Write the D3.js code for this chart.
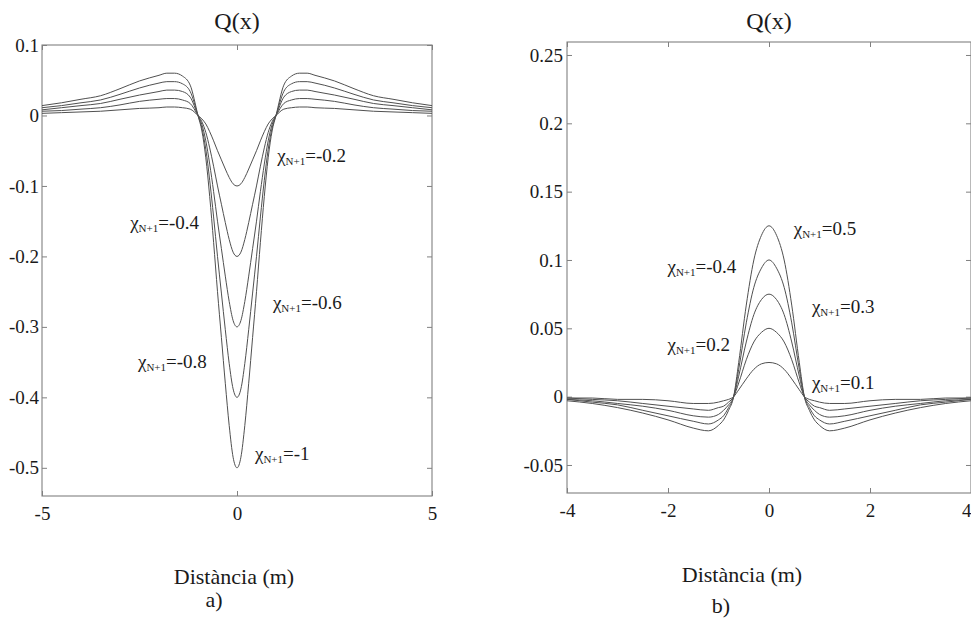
<!DOCTYPE html>
<html>
<head>
<meta charset="utf-8">
<script src="https://cdn.jsdelivr.net/npm/d3@7"></script>
<style>
  html, body { margin: 0; padding: 0; background: #ffffff; }
  svg { display: block; }
  text { font-family: "Liberation Serif", "Times New Roman", serif; fill: #1a1a1a; }
</style>
</head>
<body>
<svg id="chart" width="971" height="621"></svg>
<script>
// ---------- Panel a) data ----------
const xA = [-5,-4.5,-4,-3.5,-3,-2.5,-2,-1.8,-1.6,-1.4,-1.2,-1,-0.9,-0.8,-0.7,-0.6,-0.5,-0.4,-0.3,-0.2,-0.1,0,0.1,0.2,0.3,0.4,0.5,0.6,0.7,0.8,0.9,1,1.2,1.4,1.6,1.8,2,2.5,3,3.5,4,4.5,5];
const chiA = [-1, -0.8, -0.6, -0.4, -0.2];
const qA_m1  = [0.014,0.018,0.023,0.028,0.038,0.049,0.057,0.06,0.06,0.056,0.043,0,-0.022,-0.06,-0.115,-0.18,-0.25,-0.315,-0.38,-0.44,-0.485,-0.5,-0.485,-0.44,-0.38,-0.315,-0.25,-0.18,-0.115,-0.06,-0.022,0,0.043,0.056,0.06,0.06,0.057,0.049,0.038,0.028,0.023,0.018,0.014];
const qA_m08 = [0.011,0.014,0.018,0.022,0.030,0.039,0.046,0.048,0.048,0.045,0.034,0,-0.018,-0.048,-0.092,-0.144,-0.2,-0.252,-0.304,-0.352,-0.388,-0.4,-0.388,-0.352,-0.304,-0.252,-0.2,-0.144,-0.092,-0.048,-0.018,0,0.034,0.045,0.048,0.048,0.046,0.039,0.030,0.022,0.018,0.014,0.011];
const qA_m06 = [0.008,0.011,0.014,0.017,0.023,0.029,0.034,0.036,0.036,0.034,0.026,0,-0.013,-0.036,-0.069,-0.108,-0.15,-0.189,-0.228,-0.264,-0.291,-0.3,-0.291,-0.264,-0.228,-0.189,-0.15,-0.108,-0.069,-0.036,-0.013,0,0.026,0.034,0.036,0.036,0.034,0.029,0.023,0.017,0.014,0.011,0.008];
const qA_m04 = [0.006,0.007,0.009,0.011,0.015,0.020,0.023,0.024,0.024,0.022,0.017,0,-0.009,-0.024,-0.046,-0.072,-0.1,-0.126,-0.152,-0.176,-0.194,-0.2,-0.194,-0.176,-0.152,-0.126,-0.1,-0.072,-0.046,-0.024,-0.009,0,0.017,0.022,0.024,0.024,0.023,0.020,0.015,0.011,0.009,0.007,0.006];
const qA_m02 = [0.003,0.004,0.005,0.006,0.008,0.010,0.011,0.012,0.012,0.011,0.009,0,-0.005,-0.012,-0.023,-0.036,-0.05,-0.063,-0.076,-0.088,-0.097,-0.1,-0.097,-0.088,-0.076,-0.063,-0.05,-0.036,-0.023,-0.012,-0.005,0,0.009,0.011,0.012,0.012,0.011,0.010,0.008,0.006,0.005,0.004,0.003];
const xTicksA = [-5, 0, 5];
const yTicksA = [0.1, 0, -0.1, -0.2, -0.3, -0.4, -0.5];
const labelsA = ["-0.2", "-0.4", "-0.6", "-0.8", "-1"];

// ---------- Panel b) data ----------
const xB = [-4,-3.5,-3,-2.5,-2,-1.5,-1.2,-1,-0.9,-0.8,-0.7,-0.6,-0.45,-0.3,-0.15,0,0.15,0.3,0.45,0.6,0.7,0.8,0.9,1,1.2,1.5,2,2.5,3,3.5,4];
const chiB = [0.5, 0.4, 0.3, 0.2, 0.1];
const qB_05 = [-0.003,-0.005,-0.008,-0.012,-0.017,-0.023,-0.025,-0.021,-0.017,-0.01,0,0.025,0.067,0.1,0.118,0.125,0.118,0.1,0.067,0.025,0,-0.01,-0.017,-0.021,-0.025,-0.023,-0.017,-0.012,-0.008,-0.005,-0.003];
const qB_04 = [-0.002,-0.004,-0.006,-0.010,-0.014,-0.018,-0.02,-0.017,-0.014,-0.008,0,0.02,0.054,0.08,0.094,0.1,0.094,0.08,0.054,0.02,0,-0.008,-0.014,-0.017,-0.02,-0.018,-0.014,-0.010,-0.006,-0.004,-0.002];
const qB_03 = [-0.002,-0.003,-0.005,-0.007,-0.010,-0.014,-0.015,-0.013,-0.010,-0.006,0,0.015,0.04,0.06,0.071,0.075,0.071,0.06,0.04,0.015,0,-0.006,-0.010,-0.013,-0.015,-0.014,-0.010,-0.007,-0.005,-0.003,-0.002];
const qB_02 = [-0.001,-0.002,-0.003,-0.005,-0.007,-0.009,-0.01,-0.008,-0.007,-0.004,0,0.01,0.027,0.04,0.047,0.05,0.047,0.04,0.027,0.01,0,-0.004,-0.007,-0.008,-0.01,-0.009,-0.007,-0.005,-0.003,-0.002,-0.001];
const qB_01 = [-0.001,-0.001,-0.002,-0.002,-0.003,-0.005,-0.005,-0.004,-0.003,-0.002,0,0.005,0.013,0.02,0.024,0.025,0.024,0.02,0.013,0.005,0,-0.002,-0.003,-0.004,-0.005,-0.005,-0.003,-0.002,-0.002,-0.001,-0.001];
const xTicksB = [-4, -2, 0, 2, 4];
const yTicksB = [0.25, 0.2, 0.15, 0.1, 0.05, 0, -0.05];
const labelsB = ["0.5", "-0.4", "0.3", "0.2", "0.1"];

const title = "Q(x)";
const xLabel = "Distància (m)";

// ---------- Drawing ----------
const svg = d3.select("#chart");
const lineColor = "#505050";
const boxColor = "#808080";
const serif = '"Liberation Serif", "Times New Roman", serif';

function panel(cfg) {
  const g = svg.append("g");
  const x = d3.scaleLinear().domain(cfg.xDomain).range(cfg.xRange);
  const y = d3.scaleLinear().domain(cfg.yDomain).range(cfg.yRange);
  const [x0, x1] = cfg.xRange, [y1, y0] = cfg.yRange;
  const fmt = d => String(d);

  const axB = g.append("g").attr("transform", `translate(0,${y1})`)
    .call(d3.axisBottom(x).tickValues(cfg.xTicks).tickSizeInner(-5).tickSizeOuter(0).tickPadding(11).tickFormat(fmt));
  const axT = g.append("g").attr("transform", `translate(0,${y0})`)
    .call(d3.axisTop(x).tickValues(cfg.xTicks).tickSizeInner(-5).tickSizeOuter(0).tickFormat(""));
  const axL = g.append("g").attr("transform", `translate(${x0},0)`)
    .call(d3.axisLeft(y).tickValues(cfg.yTicks).tickSizeInner(-5).tickSizeOuter(0).tickPadding(cfg.yPad).tickFormat(fmt));
  const axR = g.append("g").attr("transform", `translate(${x1},0)`)
    .call(d3.axisRight(y).tickValues(cfg.yTicks).tickSizeInner(-5).tickSizeOuter(0).tickFormat(""));
  [axB, axT, axL, axR].forEach(a => {
    a.select(".domain").remove();
    a.selectAll(".tick line").attr("stroke", boxColor).attr("stroke-width", 1);
    a.selectAll(".tick text").style("font-family", serif)
      .style("font-size", "19px").attr("fill", "#1a1a1a");
  });
  if (cfg.lastTickEnd) {
    axB.selectAll(".tick text").filter(d => d === cfg.xTicks[cfg.xTicks.length - 1])
      .attr("text-anchor", "end").attr("x", 0);
  }

  g.append("rect").attr("x", x0).attr("y", y0).attr("width", x1 - x0).attr("height", y1 - y0)
    .attr("fill", "none").attr("stroke", boxColor).attr("stroke-width", 1.1);

  const line = d3.line().x((d, i) => x(cfg.xs[i])).y(d => y(d)).curve(d3.curveMonotoneX);
  const clipId = "clip" + cfg.id;
  svg.append("clipPath").attr("id", clipId).append("rect")
    .attr("x", x0).attr("y", y0).attr("width", x1 - x0).attr("height", y1 - y0);
  g.append("g").attr("clip-path", `url(#${clipId})`)
    .selectAll("path").data(cfg.series).join("path")
    .attr("d", d => line(d))
    .attr("fill", "none").attr("stroke", lineColor).attr("stroke-width", 1);

  cfg.labels.forEach((lab, i) => {
    const p = cfg.labelPos[i];
    const t = g.append("text").attr("x", x(p[0])).attr("y", y(p[1])).style("font-size", "19px");
    t.append("tspan").text("χ");
    t.append("tspan").text("N+1").style("font-size", "11px").attr("dy", 3);
    t.append("tspan").text("=" + lab).style("font-size", "19px").attr("dy", -3);
  });

  const cx = (x0 + x1) / 2;
  g.append("text").attr("x", cx).attr("y", 29).attr("text-anchor", "middle")
    .style("font-size", "24px").text(title);
  g.append("text").attr("x", cfg.xLabelX).attr("y", cfg.xLabelY).attr("text-anchor", "middle")
    .style("font-size", "22px").text(xLabel);
  g.append("text").attr("x", cfg.subX).attr("y", cfg.subY).attr("text-anchor", "middle")
    .style("font-size", "22px").text(cfg.sub);
}

panel({
  id: "A",
  xDomain: [-5, 5], xRange: [42, 432],
  yDomain: [-0.54, 0.1], yRange: [496, 45],
  xs: xA, series: [qA_m1, qA_m08, qA_m06, qA_m04, qA_m02],
  xTicks: xTicksA, yTicks: yTicksA, yPad: 3,
  labels: labelsA,
  labelPos: [[1.03, -0.066], [-2.74, -0.161], [0.92, -0.274], [-2.54, -0.358], [0.46, -0.489]],
  xLabelX: 234, xLabelY: 584, sub: "a)", subX: 214, subY: 607
});

panel({
  id: "B",
  xDomain: [-4, 4], xRange: [567, 971],
  yDomain: [-0.0705, 0.2595], yRange: [493, 42],
  xs: xB, series: [qB_05, qB_04, qB_03, qB_02, qB_01],
  xTicks: xTicksB, yTicks: yTicksB, yPad: 4, lastTickEnd: true,
  labels: labelsB,
  labelPos: [[0.49, 0.1185], [-2.01, 0.0907], [0.85, 0.0615], [-2.01, 0.0337], [0.85, 0.0059]],
  xLabelX: 742, xLabelY: 582, sub: "b)", subX: 721, subY: 613
});
</script>
</body>
</html>
